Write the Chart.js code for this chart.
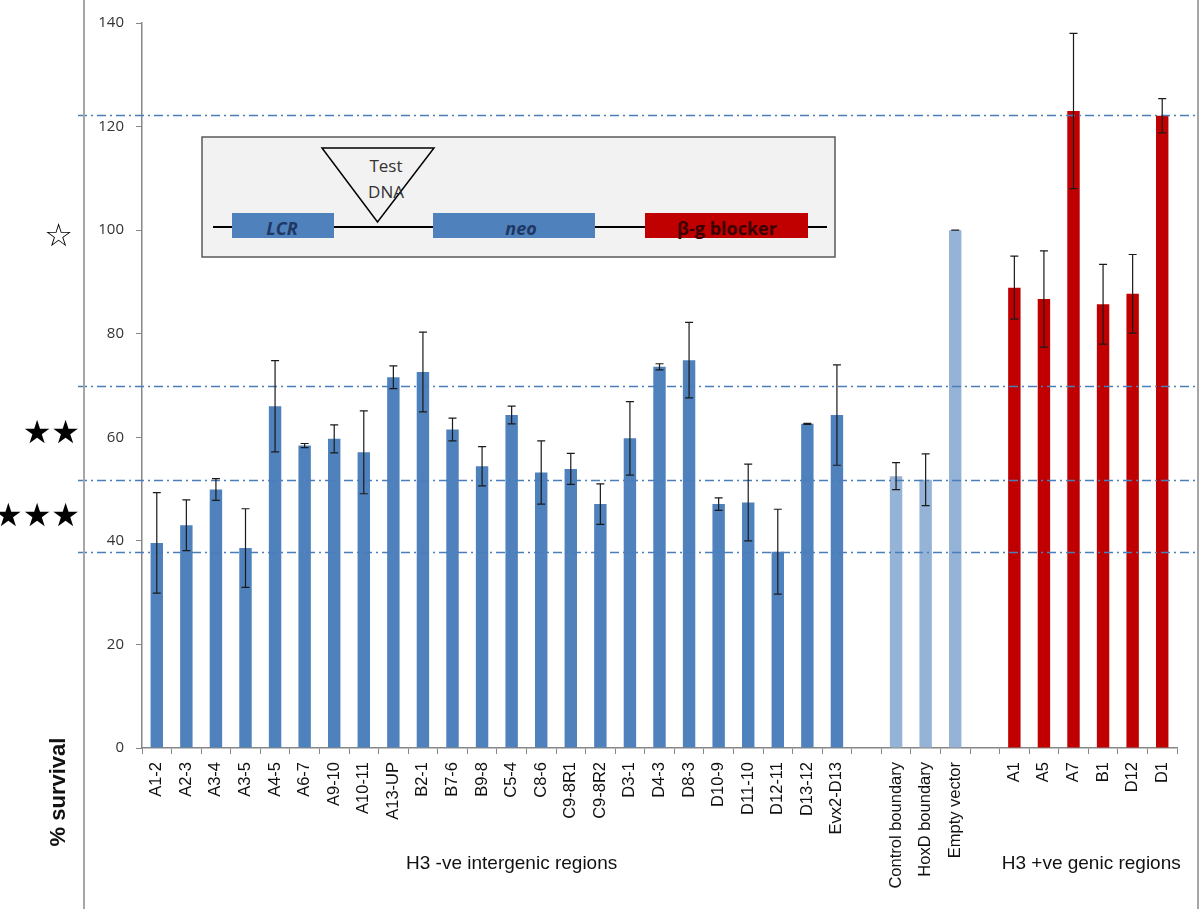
<!DOCTYPE html>
<html>
<head>
<meta charset="utf-8">
<title>% survival</title>
<script src="https://cdn.jsdelivr.net/npm/chart.js@4.4.1/dist/chart.umd.min.js"></script>
<style>
  html, body { margin: 0; padding: 0; background: #fff; }
  #wrap { position: relative; width: 1200px; height: 909px; overflow: hidden; }
  #frame { position: absolute; left: 83px; top: -3px; width: 1116px; height: 915px;
           border: 2px solid #a6a6a6; box-sizing: border-box; pointer-events: none; }
  #inset { position: absolute; left: 0; top: 0; pointer-events: none; }
</style>
</head>
<body>
<div id="wrap">
  <canvas id="survivalChart"></canvas>
  <div id="frame"></div>
  <!-- construct diagram -->
  <svg id="inset" width="1200" height="909">
    <rect x="202" y="137" width="633" height="120" fill="#f2f2f2" stroke="#595959" stroke-width="1.5"/>
    <line x1="213" y1="227" x2="827" y2="227" stroke="#000" stroke-width="2"/>
    <rect x="232" y="213" width="102" height="25" fill="#4f81bd"/>
    <rect x="433" y="213" width="162" height="25" fill="#4f81bd"/>
    <rect x="645" y="213" width="163" height="25" fill="#c00000"/>
    <polygon points="322,148 434,148 377.5,222" fill="none" stroke="#000" stroke-width="1.5"/>
    <text x="386" y="172" text-anchor="middle" font-family="Open Sans" font-size="17" fill="#333">Test</text>
    <text x="386" y="198" text-anchor="middle" font-family="Open Sans" font-size="17" fill="#333">DNA</text>
    <text x="282" y="235" text-anchor="middle" font-family="Open Sans" font-size="18" font-weight="bold" font-style="italic" fill="#1f3864">LCR</text>
    <text x="521" y="235" text-anchor="middle" font-family="Open Sans" font-size="18" font-weight="bold" font-style="italic" fill="#1f3864">neo</text>
    <text x="727" y="235" text-anchor="middle" font-family="Open Sans" font-size="18" font-weight="bold" fill="#3a0000">β-g blocker</text>
  </svg>
</div>

<script>
/* === DATA === */
const categories = ['A1-2', 'A2-3', 'A3-4', 'A3-5', 'A4-5', 'A6-7', 'A9-10', 'A10-11', 'A13-UP', 'B2-1',
    'B7-6', 'B9-8', 'C5-4', 'C8-6', 'C9-8R1', 'C9-8R2', 'D3-1', 'D4-3', 'D8-3', 'D10-9',
    'D11-10', 'D12-11', 'D13-12', 'Evx2-D13', '',
    'Control boundary', 'HoxD boundary', 'Empty vector', '',
    'A1', 'A5', 'A7', 'B1', 'D12', 'D1'];

const survival = [39.6, 43.0, 49.9, 38.6, 66.0, 58.4, 59.7, 57.1, 71.6, 72.6,
    61.5, 54.4, 64.3, 53.2, 53.9, 47.1, 59.8, 73.6, 74.9, 47.1,
    47.4, 37.9, 62.6, 64.3, null,
    52.5, 51.8, 100, null,
    88.9, 86.7, 123.0, 85.7, 87.7, 122.1];

const errors = [9.7, 4.9, 2.1, 7.6, 8.8, 0.4, 2.7, 8.0, 2.2, 7.7,
    2.2, 3.8, 1.7, 6.1, 3.0, 3.9, 7.1, 0.6, 7.3, 1.2,
    7.4, 8.2, 0.1, 9.7, null,
    2.6, 5.0, 0, null,
    6.1, 9.3, 15.0, 7.7, 7.6, 3.3];

// n = H3 -ve intergenic, c = controls, p = H3 +ve genic
const groups = ['n','n','n','n','n','n','n','n','n','n','n','n','n','n','n','n','n','n','n','n','n','n','n','n','',
    'c','c','c','',
    'p','p','p','p','p','p'];

const thresholds = [122.2, 69.9, 51.7, 37.8];
const yTicks = [0, 20, 40, 60, 80, 100, 120, 140];

const groupLabels = ['H3 -ve intergenic regions', 'H3 +ve genic regions'];
const groupLabelAt = [12, 31.6];

const starLabels = ['☆', '★★', '★★★'];
const starAt = [98.5, 60.5, 44.5];
const starRight = [73, 80, 80];

const colors = { n: '#4f81bd', c: '#95b3d7', p: '#c00000', '': '#ffffff' };

/* === PLUGINS === */
const errorBars = {
    id: 'errorBars',
    afterDatasetsDraw(chart) {
        const ctx = chart.ctx;
        const y = chart.scales.y;
        const meta = chart.getDatasetMeta(0);
        ctx.save();
        ctx.strokeStyle = '#1a1a1a';
        ctx.lineWidth = 1.2;
        survival.forEach((v, i) => {
            if (v === null || errors[i] === null) return;
            const x = meta.data[i].x;
            const top = y.getPixelForValue(v + errors[i]);
            const bot = y.getPixelForValue(v - errors[i]);
            ctx.beginPath();
            ctx.moveTo(x, top); ctx.lineTo(x, bot);
            ctx.moveTo(x - 4, top); ctx.lineTo(x + 4, top);
            ctx.moveTo(x - 4, bot); ctx.lineTo(x + 4, bot);
            ctx.stroke();
        });
        ctx.restore();
    }
};

const refLines = {
    id: 'refLines',
    afterDatasetsDraw(chart) {
        const ctx = chart.ctx;
        const y = chart.scales.y;
        ctx.save();
        ctx.strokeStyle = '#4a7ebb';
        ctx.lineWidth = 1.3;
        ctx.setLineDash([9, 4, 2, 4]);
        thresholds.forEach(t => {
            const py = Math.round(y.getPixelForValue(t)) + 0.5;
            ctx.beginPath();
            ctx.moveTo(78, py);
            ctx.lineTo(1196, py);
            ctx.stroke();
        });
        ctx.restore();
    }
};

const extraText = {
    id: 'extraText',
    afterDraw(chart) {
        const ctx = chart.ctx;
        const x = chart.scales.x, y = chart.scales.y;
        ctx.save();
        // stars
        ctx.fillStyle = '#000';
        ctx.font = '32px "DejaVu Sans"';
        ctx.textAlign = 'right';
        ctx.textBaseline = 'middle';
        starLabels.forEach((s, i) => ctx.fillText(s, starRight[i], y.getPixelForValue(starAt[i])));
        // group labels
        ctx.font = '19px "Liberation Sans", Arial';
        ctx.textAlign = 'center';
        ctx.fillStyle = '#111';
        groupLabels.forEach((g, i) => ctx.fillText(g, x.getPixelForValue(groupLabelAt[i]), 864));
        // y title
        ctx.translate(59, 792);
        ctx.rotate(-Math.PI / 2);
        ctx.font = 'bold 22px "Liberation Sans", Arial';
        ctx.fillText('% survival', 0, 0);
        ctx.restore();
    }
};

/* === CHART === */
document.addEventListener('DOMContentLoaded', function() {
    const canvas = document.getElementById('survivalChart');
    canvas.width = 1200; canvas.height = 909;
    new Chart(canvas, {
        type: 'bar',
        data: {
            labels: categories,
            datasets: [{
                data: survival,
                backgroundColor: groups.map(g => colors[g]),
                categoryPercentage: 1,
                barPercentage: 0.42
            }]
        },
        options: {
            responsive: false,
            animation: false,
            layout: { padding: { left: 0, right: 23, top: 23, bottom: 0 } },
            plugins: { legend: { display: false }, tooltip: { enabled: false } },
            scales: {
                x: {
                    grid: { drawOnChartArea: false, tickLength: 6, color: '#868686', offset: true },
                    border: { color: '#868686', width: 1.5 },
                    ticks: {
                        autoSkip: false, maxRotation: 90, minRotation: 90, padding: 8,
                        color: '#111', font: { family: '"Liberation Sans", Arial', size: 16.5 }
                    },
                    afterFit: s => { s.height = 161; }
                },
                y: {
                    min: 0, max: 140,
                    afterBuildTicks: s => { s.ticks = yTicks.map(v => ({ value: v })); },
                    grid: { drawOnChartArea: false, tickLength: 6, color: '#868686' },
                    border: { color: '#868686', width: 1.5 },
                    ticks: { padding: 12, color: '#333', font: { family: '"Open Sans"', size: 15 } },
                    afterFit: s => { s.width = 142; }
                }
            }
        },
        plugins: [refLines, errorBars, extraText]
    });
});
</script>
</body>
</html>
